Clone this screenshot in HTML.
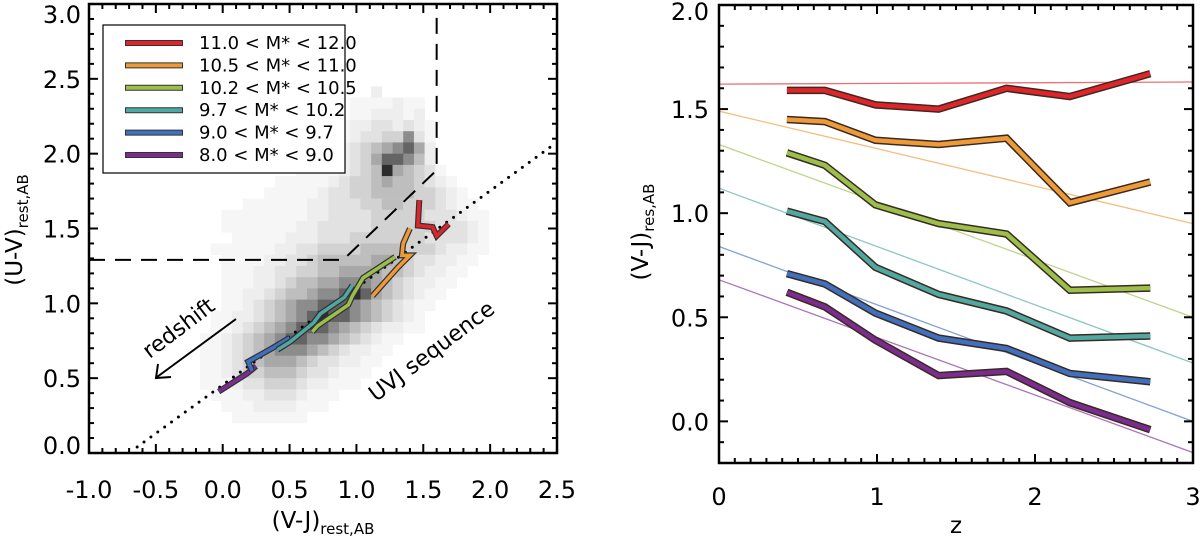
<!DOCTYPE html>
<html><head><meta charset="utf-8"><style>
html,body{margin:0;padding:0;background:#fff;}
svg{display:block;font-family:"DejaVu Sans","Liberation Sans",sans-serif;}
</style></head><body>
<svg id="fig" width="1200" height="543" viewBox="0 0 1200 543" xmlns="http://www.w3.org/2000/svg">
<g id="left"></g>
<g id="right"></g>
</svg>
<script>
// ---------- data ----------
const massBins = ["11.0 < M* < 12.0","10.5 < M* < 11.0","10.2 < M* < 10.5","9.7 < M* < 10.2","9.0 < M* < 9.7","8.0 < M* < 9.0"];
const binColors = ["#e0242a","#ef9a38","#9cbf4c","#4fa8a2","#3f70c0","#7c2b90"];
const zValues = [0.43,0.67,0.99,1.39,1.82,2.22,2.73];
const vjRed    = [1.59,1.59,1.52,1.50,1.60,1.56,1.67];
const vjOrange = [1.45,1.44,1.35,1.33,1.36,1.05,1.15];
const vjGreen  = [1.29,1.23,1.04,0.95,0.90,0.63,0.64];
const vjTeal   = [1.01,0.96,0.74,0.61,0.53,0.40,0.41];
const vjBlue   = [0.71,0.66,0.52,0.40,0.35,0.23,0.19];
const vjPurple = [0.62,0.55,0.39,0.22,0.24,0.09,-0.04];
const fitAtZ0 = [1.62,1.49,1.33,1.12,0.84,0.68];
const fitAtZ3 = [1.63,0.95,0.50,0.28,0.00,-0.15];
// UVJ tracks (V-J, U-V)
const trackRedVJ = [1.47,1.46,1.57,1.60,1.69];
const trackRedUV = [1.69,1.52,1.51,1.45,1.53];
const trackOrangeVJ = [1.40,1.35,1.34,1.40,1.31,1.12];
const trackOrangeUV = [1.50,1.40,1.32,1.32,1.24,1.05];
const trackGreenVJ = [1.29,1.05,0.97,0.94,0.71,0.67];
const trackGreenUV = [1.31,1.17,1.05,0.99,0.85,0.81];
const trackTealVJ = [0.97,0.91,0.73,0.68,0.50,0.41];
const trackTealUV = [1.12,1.04,0.93,0.87,0.74,0.69];
const trackBlueVJ = [0.50,0.37,0.19,0.22];
const trackBlueUV = [0.77,0.70,0.61,0.55];
const trackPurpleVJ = [0.25,0.18,-0.03];
const trackPurpleUV = [0.58,0.53,0.41];
// heatmap density rows (top u=2.45 downward, step 0.075; cols from V-J=-0.25, step 0.08)
const densityRows = [
"0000000000000000020000000000000",
"0000000000000001111211000000000",
"0000000000000001122212000000000",
"0000000000000012233232100000000",
"0000000000000012334473100000000",
"0000000000000123456786200000000",
"0000000000000123468875200000000",
"0000000000111123459654310000000",
"0000000011111234456554321000000",
"0000000111112334455554432100000",
"0000011111122333445544432110000",
"0001111111122333344444333211000",
"0001111111223333344444433321000",
"0000111112223334444444333321000",
"0011111122334444555544432211000",
"0001111223345555566543322110000",
"0001112233445566665543221100000",
"0001112234556677765432211000000",
"0001122345567789865432110000000",
"0001123456778887654321100000000",
"0011223456789887654321000000000",
"0011234567888765432211000000000",
"0112345678877654321100000000000",
"0112345677765432211000000000000",
"0112345666543322110000000000000",
"0112344555433211100000000000000",
"0111233444322111000000000000000",
"0011122333211100000000000000000",
"0001112222111000000000000000000",
"0000111111100000000000000000000"];
const grayLevels = [255,246,238,226,210,190,168,140,100,45];

const NS="http://www.w3.org/2000/svg";
function mk(parent,tag,attrs){const e=document.createElementNS(NS,tag);for(const k in attrs)e.setAttribute(k,attrs[k]);parent.appendChild(e);return e;}
function gray(d){const v=grayLevels[d];return `rgb(${v},${v},${v})`;}

// ---------- left panel ----------
const L=document.getElementById('left');
const LX0=89,LX1=557,LY0=453,LY1=4;
const lx=v=>LX0+(v+1.0)/3.5*(LX1-LX0);
const ly=u=>LY0-u/3.0*(LY0-LY1);
const hm=mk(L,'g',{});


densityRows.forEach((row,j)=>{
  for(let i=0;i<row.length;i++){
    const d=+row[i]; if(!d) continue;
    const v0=-0.25+0.08*i, u1=2.45-0.075*j;
    const x=lx(v0), y=ly(u1);
    const r=mk(hm,'rect',{x:x.toFixed(2),y:y.toFixed(2),width:(lx(v0+0.08)-x+0.3).toFixed(2),height:(ly(u1-0.075)-y+0.3).toFixed(2),fill:gray(d)});
    
    
  }
});
const dot=mk(L,'line',{x1:lx(-0.64),y1:ly(0.04),x2:lx(2.49),y2:ly(2.07),stroke:'#000','stroke-width':3,'stroke-dasharray':'0 8.5','stroke-linecap':'round'});


const dash=mk(L,'polyline',{points:`${lx(-1)},${ly(1.29)} ${lx(0.9)},${ly(1.29)} ${lx(1.6)},${ly(1.89)} ${lx(1.6)},${ly(3.0)}`,fill:'none',stroke:'#000','stroke-width':2,'stroke-dasharray':'16 10'});


const tracks=[[trackRedVJ,trackRedUV],[trackOrangeVJ,trackOrangeUV],[trackGreenVJ,trackGreenUV],[trackTealVJ,trackTealUV],[trackBlueVJ,trackBlueUV],[trackPurpleVJ,trackPurpleUV]];
for(let k=tracks.length-1;k>=0;k--){
  const [vx,vy]=tracks[k];
  const pts=vx.map((v,i)=>lx(v).toFixed(1)+','+ly(vy[i]).toFixed(1)).join(' ');
  const g=mk(L,'g',{});
  
  
  mk(g,'polyline',{points:pts,fill:'none',stroke:'#333','stroke-width':6,'stroke-linejoin':'miter'});
  mk(g,'polyline',{points:pts,fill:'none',stroke:binColors[k],'stroke-width':3.5,'stroke-linejoin':'miter'});
}
const arr=mk(L,'g',{});


mk(arr,'line',{x1:236,y1:319,x2:157,y2:377,stroke:'#000','stroke-width':2});
mk(arr,'polyline',{points:'158,364 156,378 171,377',fill:'none',stroke:'#000','stroke-width':2});
const rt=mk(L,'text',{x:0,y:0,'font-size':22,transform:'translate(183,334) rotate(-37)','text-anchor':'middle'});
rt.textContent='redshift';


const ut=mk(L,'text',{x:0,y:0,'font-size':22,transform:'translate(436,357) rotate(-37)','text-anchor':'middle'});
ut.textContent='UVJ sequence';


const lg=mk(L,'g',{});


mk(lg,'rect',{x:103,y:25,width:242,height:148,fill:'#fff',stroke:'#000','stroke-width':1.2});
massBins.forEach((lab,k)=>{
  const y=43+k*22.4;
  const e=mk(lg,'g',{});
  
  
  mk(e,'line',{x1:125,y1:y,x2:183,y2:y,stroke:'#333','stroke-width':6});
  mk(e,'line',{x1:126,y1:y,x2:182,y2:y,stroke:binColors[k],'stroke-width':4});
  const t=mk(e,'text',{x:199,y:y+6,'font-size':18});
  t.textContent=lab;
});
function frame(P,x0,x1,y0,y1,xs,ys,xfun,yfun,name){
  const g=mk(P,'g',{});
  
  
  mk(g,'rect',{x:x0,y:y1,width:x1-x0,height:y0-y1,fill:'none',stroke:'#000','stroke-width':2.5});
  xs.forEach(([v,maj])=>{const x=xfun(v),l=maj?9:5;
    mk(g,'line',{x1:x,y1:y0,x2:x,y2:y0-l,stroke:'#000','stroke-width':2});
    mk(g,'line',{x1:x,y1:y1,x2:x,y2:y1+l,stroke:'#000','stroke-width':2});});
  ys.forEach(([v,maj])=>{const y=yfun(v),l=maj?9:5;
    mk(g,'line',{x1:x0,y1:y,x2:x0+l,y2:y,stroke:'#000','stroke-width':2});
    mk(g,'line',{x1:x1,y1:y,x2:x1-l,y2:y,stroke:'#000','stroke-width':2});});
}
const lxt=[],lyt=[];
for(let i=0;i<=35;i++)lxt.push([-1+i*0.1,i%5===0]);
for(let i=0;i<=30;i++)lyt.push([i*0.1,i%5===0]);
frame(L,LX0,LX1,LY0,LY1,lxt,lyt,lx,ly,'left-axes-frame');
const lxLabels=["-1.0","-0.5","0.0","0.5","1.0","1.5","2.0","2.5"];
const lyLabels=["0.0","0.5","1.0","1.5","2.0","2.5","3.0"];
lxLabels.forEach((s,i)=>{const t=mk(L,'text',{x:lx(-1+0.5*i),y:498,'font-size':24,'text-anchor':'middle'});t.textContent=s;
  });
lyLabels.forEach((s,i)=>{let y=ly(0.5*i)+9; if(i===0)y-=8; if(i===6)y+=10;
  const t=mk(L,'text',{x:81,y:y,'font-size':24,'text-anchor':'end'});t.textContent=s;
  });
const lxTitle=mk(L,'text',{x:323,y:528,'font-size':23,'text-anchor':'middle'});
lxTitle.innerHTML='(V-J)<tspan font-size="15" dy="6">rest,AB</tspan>';


const lyTitle=mk(L,'text',{x:0,y:0,'font-size':23,'text-anchor':'middle',transform:'translate(22,230) rotate(-90)'});
lyTitle.innerHTML='(U-V)<tspan font-size="15" dy="6">rest,AB</tspan>';



// ---------- right panel ----------
const R=document.getElementById('right');
const RX0=719,RX1=1193,RY0=463,RY1=5;
const rx=z=>RX0+z/3*(RX1-RX0);
const ry=v=>RY0-(v+0.2)/2.2*(RY0-RY1);
const series=[vjRed,vjOrange,vjGreen,vjTeal,vjBlue,vjPurple];
fitAtZ0.forEach((a,k)=>{
  const l=mk(R,'line',{x1:rx(0),y1:ry(a),x2:rx(3),y2:ry(fitAtZ3[k]),stroke:binColors[k],'stroke-width':1.3,opacity:0.65});
  
  
});
series.forEach((s,k)=>{
  const pts=s.map((v,i)=>rx(zValues[i]).toFixed(1)+','+ry(v).toFixed(1)).join(' ');
  const g=mk(R,'g',{});
  
  
  mk(g,'polyline',{points:pts,fill:'none',stroke:'#3a2a20','stroke-width':7.5});
  mk(g,'polyline',{points:pts,fill:'none',stroke:binColors[k],'stroke-width':4.5});
});
const rxt=[],ryt=[];
for(let i=0;i<=30;i++)rxt.push([i*0.1,i%10===0]);
for(let i=0;i<=22;i++)ryt.push([-0.2+i*0.1,(i-2)%5===0]);
frame(R,RX0,RX1,RY0,RY1,rxt,ryt,rx,ry,'right-axes-frame');
const rxLabels=["0","1","2","3"];
const ryLabels=["0.0","0.5","1.0","1.5","2.0"];
rxLabels.forEach((s,i)=>{const t=mk(R,'text',{x:rx(i),y:505,'font-size':24,'text-anchor':'middle'});t.textContent=s;
  });
ryLabels.forEach((s,i)=>{let y=ry(0.5*i)+9; if(i===4)y+=6;
  const t=mk(R,'text',{x:709,y:y,'font-size':24,'text-anchor':'end'});t.textContent=s;
  });
const rxTitle=mk(R,'text',{x:956,y:533,'font-size':23,'text-anchor':'middle'});
rxTitle.textContent='z';


const ryTitle=mk(R,'text',{x:0,y:0,'font-size':23,'text-anchor':'middle',transform:'translate(648,232) rotate(-90)'});
ryTitle.innerHTML='(V-J)<tspan font-size="15" dy="6">res,AB</tspan>';


</script>
</body></html>
